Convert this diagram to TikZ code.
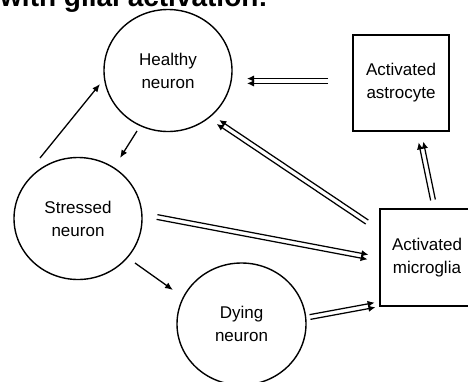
\documentclass[tikz,border=0pt]{standalone}
\usepackage{fontspec}
\setmainfont{Liberation Sans}
\usetikzlibrary{shapes.geometric,arrows.meta,calc}
\newcommand\dblarr[2]{%
  \draw[darr] ($(#1)!2.4pt!90:(#2)$) -- ($(#2)!2.4pt!-90:(#1)$);
  \draw[darr] ($(#1)!2.4pt!-90:(#2)$) -- ($(#2)!2.4pt!90:(#1)$);}
\begin{document}
\begin{tikzpicture}[x=1pt,y=-1pt,
  neuron/.style={draw, ellipse, line width=1.4pt, minimum width=128pt, minimum height=122pt,
    inner sep=0pt, align=center, font=\fontsize{17}{23}\selectfont},
  cellbox/.style={draw, rectangle, line width=1.2pt, inner sep=0pt, align=center,
    font=\fontsize{17}{23}\selectfont},
  arr/.style={line width=1.3pt, -{Latex[length=8pt,width=6.5pt]}},
  darr/.style={line width=1.25pt, -{Latex[length=7pt,width=6.5pt]}},
]
\clip (0,0) rectangle (468,381);
\node[anchor=base west, font=\fontsize{28}{30}\selectfont\bfseries, inner sep=0pt] (title) at (0,6) {with glial activation:};
\node[neuron] (H) at (168,70.5) {Healthy\\neuron};
\node[neuron] (S) at (78,218.5) {Stressed\\neuron};
\node[neuron, minimum width=129pt] (D) at (241.5,324) {Dying\\neuron};
\node[cellbox, minimum width=96pt, minimum height=96pt] (A) at (401,83) {Activated\\astrocyte};
\node[cellbox, minimum width=94pt, minimum height=97pt, line width=1.5pt] (M) at (427,257.5) {Activated\\microglia};
% free ends of connectors
\coordinate (s1) at (40,158);  \coordinate (h1) at (100,84);
\coordinate (h2) at (137,131); \coordinate (s2) at (120,158);
\coordinate (s3) at (135,263); \coordinate (d3) at (173,290);
\coordinate (a4) at (328,81);  \coordinate (h4) at (247,81);
\coordinate (m5) at (367,222); \coordinate (h5) at (218,122);
\coordinate (s6) at (157,217); \coordinate (m6) at (368,257);
\coordinate (d7) at (310,317); \coordinate (m7) at (375,305);
\coordinate (m8) at (433,200); \coordinate (a8) at (421,142);
\draw[arr] (s1) -- (h1);
\draw[arr] (h2) -- (s2);
\draw[arr] (s3) -- (d3);
\dblarr{a4}{h4}
\dblarr{m5}{h5}
\dblarr{s6}{m6}
\dblarr{d7}{m7}
\dblarr{m8}{a8}
\end{tikzpicture}
\end{document}
